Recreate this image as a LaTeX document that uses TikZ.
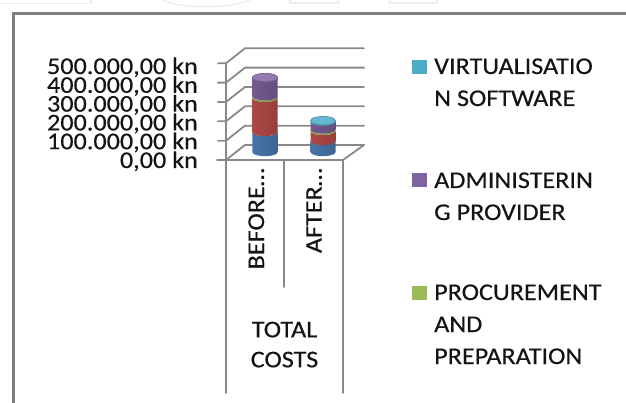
\documentclass[tikz,border=0pt]{standalone}
\usepackage{fontspec}
\newfontfamily\chartfont{Carlito}[FakeStretch=1.09, FakeBold=0.35]
\definecolor{framegray}{HTML}{7F7F7F}
\definecolor{gridgray}{HTML}{898989}
\definecolor{markgray}{HTML}{EDEDED}
\definecolor{txt}{HTML}{141414}
\definecolor{serBlue}{HTML}{4F81BD}
\definecolor{serRed}{HTML}{C0504D}
\definecolor{serGreen}{HTML}{9BBB59}
\definecolor{serPurple}{HTML}{8064A2}
\definecolor{serTeal}{HTML}{4BACC6}

% one coloured band of a cylinder: colour, centre x, rx, ry, bottom y, top y
\newcommand\cylseg[6]{%
  \shade[left color=#1!90!black, middle color=#1!94!white, right color=#1!78!black]
    ({#2-#3},#5) -- ({#2-#3},#6)
    arc[start angle=180,end angle=0,x radius=#3,y radius=#4]
    -- ({#2+#3},#5)
    arc[start angle=0,end angle=180,x radius=#3,y radius=#4] -- cycle;}
% top face of a cylinder: colour, centre x, rx, ry, y
\newcommand\cylcap[5]{%
  \fill[#1!85!white] (#2,#5) ellipse [x radius=#3, y radius=#4];
  \draw[#1!85!black, line width=0.6] (#2,#5) ellipse [x radius=#3, y radius=#4];}

\tikzset{
  grid/.style={gridgray, line width=1.8, line cap=round},
  frame/.style={framegray, line width=2.6},
  wmark/.style={markgray, line width=1.2},
  chart/.style={font=\chartfont\fontsize{24}{32}\selectfont, text=txt, inner sep=0pt},
  key/.style={draw=none, minimum size=14.5, inner sep=0pt},
}

\begin{document}
\begin{tikzpicture}[x=1pt,y=-1pt]
\useasboundingbox (0,0) rectangle (626,403);
\fill[white] (0,0) rectangle (626,403);

% faint marks above the frame
\draw[wmark] (0,3.5) -- (91,3.5) -- (91,0);
\draw[wmark] (162,0) .. controls (180,9) and (232,9) .. (250,0);
\draw[wmark] (290,0) -- (290,3) -- (338,3) -- (338,0);
\draw[wmark] (390,0) -- (390,3) -- (437,3) -- (437,0);

% chart frame
\draw[frame] (626,13.3) -- (13.3,13.3) -- (13.3,403);

% value axis, side wall and back wall gridlines
\draw[grid] (226,63.3) -- (226,160);
\foreach \i in {0,...,5} {
  \pgfmathsetmacro{\ty}{160-19.34*\i}
  \draw[grid] (218,\ty) -- (226,\ty) -- (245,{\ty-15}) -- (364,{\ty-15});
}
% floor edges
\draw[grid] (217,160) -- (343,160) -- (364,145);
% category axis dividers
\draw[grid] (226,160) -- (226,393);
\draw[grid] (284,160) -- (284,287);
\draw[grid] (343,160) -- (343,393);

% value axis labels
\foreach \i/\lab in {0/{0,00 kn},1/{100.000,00 kn},2/{200.000,00 kn},3/{300.000,00 kn},4/{400.000,00 kn},5/{500.000,00 kn}} {
  \node[chart, anchor=base east] (v\i) at (198,{168-18.8*\i}) {\lab};
}

% BEFORE cylinder
\cylseg{serBlue}{265}{12.7}{4.2}{152}{132}
\cylseg{serRed}{265}{12.7}{4.2}{132}{97.8}
\cylseg{serGreen}{265}{12.7}{4.2}{97.8}{96.2}
\cylseg{serPurple}{265}{12.7}{4.2}{96.2}{77.5}
\cylcap{serPurple}{265}{12.7}{4.2}{77.5}

% AFTER cylinder
\cylseg{serBlue}{323}{12.5}{4.2}{152}{141}
\cylseg{serRed}{323}{12.5}{4.2}{141}{131}
\cylseg{serGreen}{323}{12.5}{4.2}{131}{129.5}
\cylseg{serPurple}{323}{12.5}{4.2}{129.5}{121.6}
\cylseg{serTeal}{323}{12.5}{4.2}{121.6}{120.6}
\cylcap{serTeal}{323}{12.5}{4.2}{120.6}

% category labels
\node[chart, rotate=90, anchor=base east] (before) at (264,168) {BEFORE…};
\node[chart, rotate=90, anchor=base east] (after) at (321.7,168) {AFTER…};
\node[chart, anchor=base] (total) at (284.5,337.3) {TOTAL};
\node[chart, anchor=base] (costs) at (284.5,367.3) {COSTS};

% legend
\node[key, fill=serTeal, anchor=north west] (k1) at (412,59.5) {};
\node[chart, anchor=base west] (l1a) at (434,74) {VIRTUALISATIO};
\node[chart, anchor=base west] (l1b) at (434,106) {N SOFTWARE};
\node[key, fill=serPurple, anchor=north west] (k2) at (412,172.5) {};
\node[chart, anchor=base west] (l2a) at (434,188) {ADMINISTERIN};
\node[chart, anchor=base west] (l2b) at (434,220) {G PROVIDER};
\node[key, fill=serGreen, anchor=north west] (k3) at (412,285.5) {};
\node[chart, anchor=base west] (l3a) at (434,300) {PROCUREMENT};
\node[chart, anchor=base west] (l3b) at (434,332) {AND};
\node[chart, anchor=base west] (l3c) at (434,364) {PREPARATION};
\end{tikzpicture}
\end{document}
